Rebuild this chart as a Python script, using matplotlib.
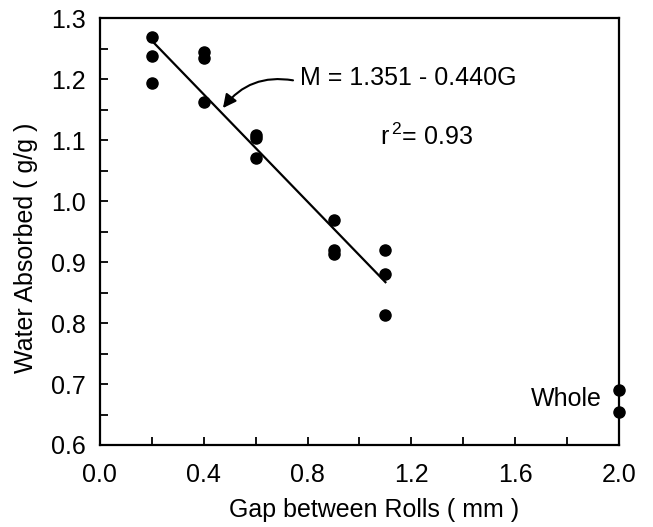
import numpy as np
import matplotlib.pyplot as plt
import matplotlib.ticker as ticker

plt.rcParams['font.family'] = ['Liberation Sans', 'DejaVu Sans']
plt.rcParams['mathtext.fontset'] = 'custom'
plt.rcParams['mathtext.rm'] = 'Liberation Sans'

# measured points (gap in mm, water absorbed g/g)
gap = [0.2, 0.2, 0.2, 0.4, 0.4, 0.4, 0.6, 0.6, 0.6, 0.9, 0.9, 0.9, 1.1, 1.1, 1.1]
water = [1.269, 1.238, 1.193, 1.244, 1.234, 1.162, 1.108, 1.103, 1.070,
         0.969, 0.919, 0.913, 0.920, 0.880, 0.813]
whole_gap = [2.0, 2.0]
whole_water = [0.690, 0.654]

# regression M = 1.351 - 0.440G
a, b = 1.351, -0.440
fit_x = [0.2, 1.1]

fig = plt.figure(figsize=(6.53, 5.27), dpi=100)
ax = fig.add_axes([0.153, 0.1556, 0.795, 0.810])

fx = np.array(fit_x)
ax.plot(fx, a + b*fx, color='black', lw=1.6)
ax.plot(gap, water, 'o', color='black', ms=8)
ax.plot(whole_gap, whole_water, 'o', color='black', ms=8, clip_on=False, zorder=5)

ax.set_xlim(0, 2.0)
ax.set_ylim(0.6, 1.3)
ax.xaxis.set_major_locator(ticker.MultipleLocator(0.4))
ax.xaxis.set_minor_locator(ticker.MultipleLocator(0.2))
ax.yaxis.set_major_locator(ticker.MultipleLocator(0.1))
ax.yaxis.set_minor_locator(ticker.MultipleLocator(0.05))
ax.xaxis.set_major_formatter(ticker.FormatStrFormatter('%.1f'))
ax.yaxis.set_major_formatter(ticker.FormatStrFormatter('%.1f'))
ax.tick_params(which='both', direction='in', length=6, width=1.3, labelsize=18)
ax.tick_params(axis='x', pad=13)
ax.tick_params(axis='y', pad=10)
for s in ax.spines.values():
    s.set_linewidth(1.6)

fig.text(374/653, 1 - 510/527, 'Gap between Rolls ( mm )', fontsize=18,
         ha='center', va='center')
fig.text(26/653, 1 - 248/527, 'Water Absorbed ( g/g )', fontsize=18,
         ha='center', va='center', rotation=90)

# equation label with curved arrow
ax.text(0.771, 1.2016, 'M = 1.351 - 0.440G', fontsize=18, va='center', ha='left')
ax.annotate('', xy=(0.474, 1.1525), xytext=(0.744, 1.198),
            arrowprops=dict(arrowstyle='-|>', color='black', lw=1.5,
                            connectionstyle='arc3,rad=0.3', shrinkA=0, shrinkB=0,
                            mutation_scale=20))
ax.text(1.079, 1.105, r'r$^{\,\mathrm{2}}$= 0.93', fontsize=18, va='center')
ax.text(1.934, 0.675, 'Whole', fontsize=18, va='center', ha='right')

fig.savefig('out.png', dpi=100)
